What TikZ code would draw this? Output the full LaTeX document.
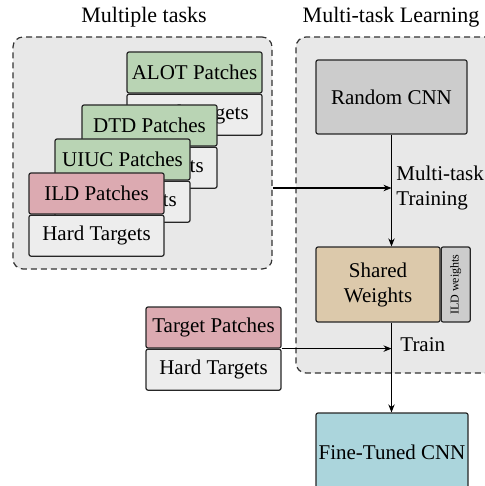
\documentclass[tikz,border=0pt]{standalone}
\usepackage{fontspec}
\setmainfont{Liberation Serif}
\usetikzlibrary{positioning,arrows.meta}
\definecolor{groupbg}{HTML}{E8E8E8}
\definecolor{patchgreen}{HTML}{B9D4B4}
\definecolor{patchpink}{HTML}{DCAAB1}
\definecolor{targetgray}{HTML}{EDEDED}
\definecolor{cnngray}{HTML}{CCCCCC}
\definecolor{sharedtan}{HTML}{DCC9AB}
\definecolor{finecyan}{HTML}{ABD5DC}
\begin{document}
\begin{tikzpicture}[x=0.5pt,y=-0.5pt,
	font=\fontsize{10.5}{12.5}\selectfont,
	>={Stealth[length=4pt,width=3.2pt]},
	group/.style={draw=black!80, dashed, dash pattern=on 3pt off 2pt, fill=groupbg, rounded corners=5pt, line width=0.6pt},
	box/.style={draw=black!85, line width=0.6pt, rounded corners=1pt, inner sep=0pt},
	patch/.style={box, minimum width=67.5pt, minimum height=20.5pt},
	title/.style={inner sep=0pt, font=\fontsize{11}{13}\selectfont}]
	\useasboundingbox (0,0) rectangle (485,486);
	\clip (0,0) rectangle (485,486);
	% containers
	\node[group, minimum width=129.5pt, minimum height=116pt] (tasks) at (142.5,153) {};
	\node[group, minimum width=102pt, minimum height=168pt] (mtl) at (398,205) {};
	\node[title] (tasks-title) at (144,17) {Multiple tasks};
	\node[title] (mtl-title) at (391,17) {Multi-task Learning};
	% task stacks, back to front
	\foreach \px/\py/\nm/\col in {127/52/ALOT/patchgreen, 82/105/DTD/patchgreen, 55/139/UIUC/patchgreen, 29/173/ILD/patchpink}{
		\node[patch, fill=\col] (p-\nm) at (\px+67.5,\py+20.5) {\nm\ Patches};
		\node[patch, fill=targetgray, below=0pt of p-\nm] (t-\nm) {Hard Targets};
	}
	% target task
	\node[patch, fill=patchpink] (p-target) at (213.5,327.5) {Target Patches};
	\node[patch, fill=targetgray, below=0pt of p-target] (t-target) {Hard Targets};
	% networks
	\node[box, fill=cnngray, minimum width=75.5pt, minimum height=37pt] (random) at (391.5,97) {Random CNN};
	\node[box, fill=sharedtan, minimum width=62pt, minimum height=37.5pt, align=center] (shared) at (378,284.5) {Shared\\Weights};
	\node[box, fill=cnngray, minimum width=14.5pt, minimum height=37.5pt, right=0pt of shared] (ild-w) {};
	\node[rotate=90, font=\fontsize{6}{7}\selectfont, inner sep=0pt] (ild-w-text) at (ild-w.center) {ILD weights};
	\node[box, fill=finecyan, minimum width=76pt, minimum height=39pt] (fine) at (392,452) {Fine-Tuned CNN};
	% connectors
	\coordinate (mt) at (random.south |- 0,188);
	\coordinate (tr) at (random.south |- p-target.south);
	\draw[->, line width=0.6pt] (random.south) -- (random.south |- shared.north);
	\draw[->, line width=0.6pt] (tasks.east |- mt) -- (mt);
	\draw[->, line width=0.6pt] (random.south |- shared.south) -- (random.south |- fine.north);
	\draw[->, line width=0.6pt] (p-target.south east) -- (tr);
	\node[anchor=west, align=left, inner sep=0pt] (mt-label) at (396,188) {Multi-task\\Training};
	\node[anchor=west, inner sep=0pt] (tr-label) at (400,345) {Train};
\end{tikzpicture}
\end{document}
